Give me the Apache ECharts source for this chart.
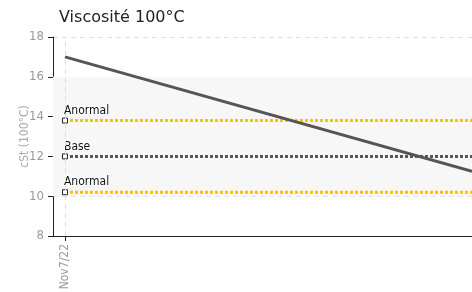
<!DOCTYPE html>
<html>
<head>
<meta charset="utf-8">
<script src="https://cdn.jsdelivr.net/npm/echarts@6/dist/echarts.min.js"></script>
<style>
  html, body { margin: 0; padding: 0; background: #fff; }
  #chart { width: 472px; height: 292px; }
</style>
</head>
<body>
<div id="chart"></div>
<script>
// data
const dateLabels = ['Nov7/22']
const trendX = [0, 34]
const trendY = [17, 11.25]
const anormalHigh = 13.8
const baseValue = 12
const anormalLow = 10.2
const bandRange = [10, 16]
const yTicks = [8, 10, 12, 14, 16, 18]

const narrow = "'DejaVu Sans Condensed', 'Liberation Sans Narrow', sans-serif"

const chart = echarts.init(document.getElementById('chart'))

function refLine(name, value, color) {
  return {
    name: name,
    type: 'line',
    data: [
      {
        value: [trendX[0], value],
        symbol: 'rect',
        symbolSize: 5,
        label: {
          show: true,
          formatter: name,
          position: [2, -13],
          color: '#111',
          fontSize: 12,
          fontFamily: narrow,
          textBorderColor: 'rgba(255,255,255,0.8)',
          textBorderWidth: 2
        }
      },
      { value: [trendX[1], value], symbol: 'none' }
    ],
    itemStyle: { color: '#fff', borderColor: '#222', borderWidth: 1 },
    lineStyle: { color: color, width: 3, type: [3, 2] },
    z: 3,
    silent: true
  }
}

const option = {
  animation: false,
  title: {
    text: 'Viscosité 100°C',
    left: 54,
    top: 5,
    textStyle: {
      fontSize: 16,
      fontWeight: 'normal',
      color: '#222',
      fontFamily: 'DejaVu Sans'
    }
  },
  grid: { left: 53, right: 0, top: 37, bottom: 56, outerBoundsMode: 'none', containLabel: false },
  xAxis: {
    type: 'value',
    min: -1,
    max: trendX[1],
    axisLine: { show: true, onZero: false, lineStyle: { color: '#222', width: 1 } },
    axisTick: { show: true, customValues: [0], length: 5, inside: false, lineStyle: { color: '#222' } },
    axisLabel: {
      customValues: [0],
      rotate: 90,
      margin: 8,
      color: '#999',
      fontSize: 12,
      fontFamily: narrow,
      formatter: function (v) { return v === 0 ? dateLabels[0] : '' }
    },
    splitLine: { show: false }
  },
  yAxis: {
    type: 'value',
    min: yTicks[0],
    max: yTicks[yTicks.length - 1],
    interval: 2,
    name: 'cSt (100°C)',
    nameLocation: 'middle',
    nameGap: 22,
    nameMoveOverlap: false,
    nameTextStyle: { color: '#aaa', fontSize: 12, fontFamily: narrow },
    axisLine: { show: true, onZero: false, lineStyle: { color: '#222', width: 1 } },
    axisTick: { show: true, length: 5, lineStyle: { color: '#222' } },
    axisLabel: { color: '#999', fontSize: 13, fontFamily: narrow, margin: 9 },
    splitLine: { show: true, lineStyle: { color: '#ddd', type: [5, 4] } },
    splitArea: { show: false }
  },
  series: [
    {
      name: 'Viscosité',
      type: 'line',
      data: trendX.map((x, i) => [x, trendY[i]]),
      showSymbol: false,
      lineStyle: { color: '#555', width: 3 },
      z: 4,
      silent: true,
      markLine: {
        silent: true,
        symbol: 'none',
        label: { show: false },
        lineStyle: { color: '#ddd', type: [5, 4], width: 1 },
        data: [{ xAxis: 0 }]
      },
      markArea: {
        silent: true,
        itemStyle: { color: '#f7f7f7' },
        data: [[{ yAxis: bandRange[0] }, { yAxis: bandRange[1] }]]
      }
    },
    refLine('Anormal', anormalHigh, '#f5c400'),
    refLine('Base', baseValue, '#555'),
    refLine('Anormal', anormalLow, '#f5c400')
  ]
}

chart.setOption(option)
</script>
</body>
</html>
